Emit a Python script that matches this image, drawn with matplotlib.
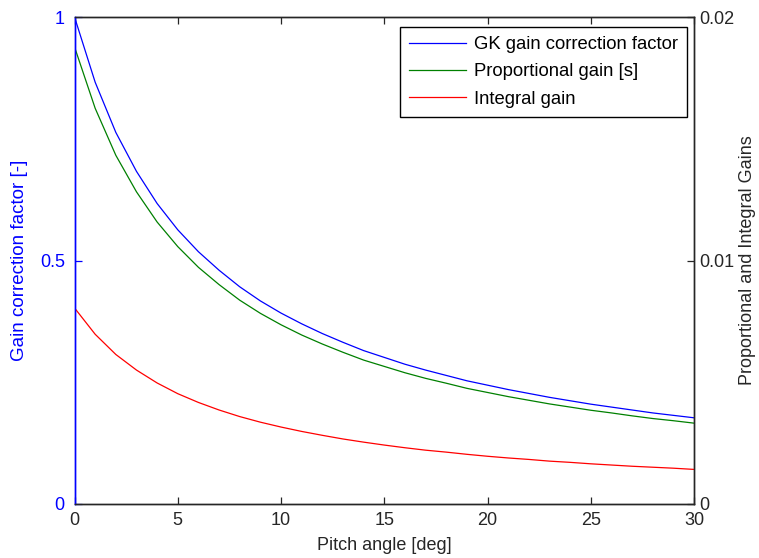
import matplotlib
matplotlib.use("Agg")
import matplotlib.pyplot as plt

plt.rcParams['font.family'] = ['Liberation Sans', 'DejaVu Sans']

pitch_deg = list(range(0, 31))
gk_factor = [1.000, 0.866, 0.763, 0.683, 0.617, 0.563, 0.518, 0.480, 0.446, 0.417,
             0.392, 0.370, 0.350, 0.332, 0.315, 0.301, 0.287, 0.275, 0.264, 0.253,
             0.244, 0.235, 0.227, 0.219, 0.212, 0.205, 0.199, 0.193, 0.187, 0.182,
             0.177]
prop_gain = [0.01877, 0.01625, 0.01432, 0.01282, 0.01158, 0.01057, 0.00972, 0.00901,
             0.00837, 0.00783, 0.00736, 0.00694, 0.00657, 0.00623, 0.00591, 0.00565,
             0.00539, 0.00516, 0.00496, 0.00475, 0.00458, 0.00441, 0.00426, 0.00411,
             0.00398, 0.00385, 0.00374, 0.00362, 0.00351, 0.00342, 0.00332]
int_gain = [0.00805, 0.00697, 0.00614, 0.00550, 0.00497, 0.00453, 0.00417, 0.00386,
            0.00359, 0.00336, 0.00316, 0.00298, 0.00282, 0.00267, 0.00254, 0.00242,
            0.00231, 0.00221, 0.00213, 0.00204, 0.00196, 0.00189, 0.00183, 0.00176,
            0.00171, 0.00165, 0.00160, 0.00155, 0.00151, 0.00147, 0.00142]

x_ticks = [0, 5, 10, 15, 20, 25, 30]
left_ticks = [0, 0.5, 1]
left_ticklabels = ['0', '0.5', '1']
right_ticks = [0, 0.01, 0.02]
right_ticklabels = ['0', '0.01', '0.02']

FS = 13
axcol = '#262626'

fig = plt.figure(figsize=(7.59, 5.58), dpi=100)
ax = fig.add_axes([0.0982, 0.0968, 0.8162, 0.8727])
ax2 = ax.twinx()

l1, = ax.plot(pitch_deg, gk_factor, color=(0, 0, 1), lw=0.9)
l2, = ax2.plot(pitch_deg, prop_gain, color=(0, 0.5, 0), lw=0.9)
l3, = ax2.plot(pitch_deg, int_gain, color=(1, 0, 0), lw=0.9)

ax.set_xlim(0, 30)
ax.set_ylim(0, 1)
ax2.set_ylim(0, 0.02)
ax.set_xticks(x_ticks)
ax.set_xticklabels([str(t) for t in x_ticks])
ax.set_yticks(left_ticks)
ax.set_yticklabels(left_ticklabels)
ax2.set_yticks(right_ticks)
ax2.set_yticklabels(right_ticklabels)

ax.tick_params(axis='x', direction='in', length=5, width=0.9, colors=axcol,
               labelsize=FS, top=True, pad=6)
ax.tick_params(axis='y', direction='in', length=5, width=0.9, colors=(0, 0, 1),
               labelsize=FS, pad=7)
ax2.tick_params(axis='y', direction='in', length=5, width=0.9, colors=axcol,
                labelsize=FS, pad=4)

for sp in ['top', 'bottom', 'right']:
    ax.spines[sp].set_color(axcol)
    ax2.spines[sp].set_color(axcol)
ax.spines['left'].set_color((0, 0, 1))
ax2.spines['left'].set_color((0, 0, 1))
for a in (ax, ax2):
    for sp in a.spines.values():
        sp.set_linewidth(1.0)

ax.set_xlabel('Pitch angle [deg]', fontsize=FS, color=axcol)
ax.xaxis.set_label_coords(0.5, -0.068)
ax.set_ylabel('Gain correction factor [-]', fontsize=FS + 0.5, color=(0, 0, 1))
ax.yaxis.set_label_coords(-0.075, 0.5)
ax2.set_ylabel('Proportional and Integral Gains', fontsize=FS, color=axcol)
ax2.yaxis.set_label_coords(1.073, 0.5)

leg = ax2.legend([l1, l2, l3],
                 ['GK gain correction factor', 'Proportional gain [s]', 'Integral gain'],
                 loc='upper right', bbox_to_anchor=(0.9887, 0.9795),
                 bbox_transform=ax.transAxes, borderaxespad=0, fontsize=FS + 0.3,
                 fancybox=False, framealpha=1, edgecolor='black',
                 handlelength=3.1, handletextpad=0.4, labelspacing=0.55,
                 borderpad=0.5)
leg.get_frame().set_linewidth(1.0)

fig.savefig('out.png', dpi=100)
